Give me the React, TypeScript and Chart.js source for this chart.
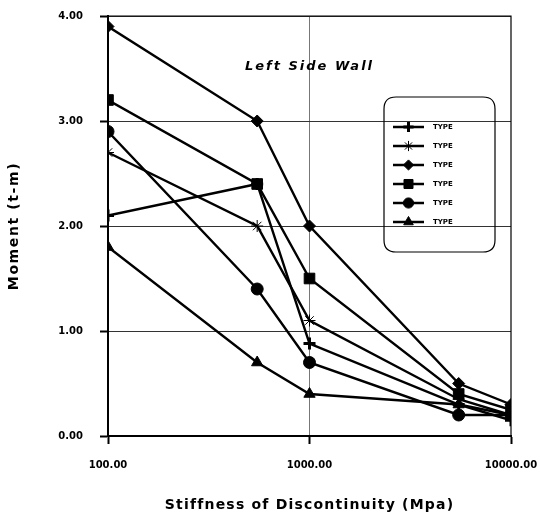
import React, { useEffect, useRef } from 'react';
import { Chart, registerables } from 'chart.js';

Chart.register(...registerables);

const xValues = [100, 550, 1000, 5500, 10000];
const typePlus = [2.1, 2.4, 0.88, 0.3, 0.15];
const typeStar = [2.7, 2.0, 1.1, 0.35, 0.2];
const typeDiamond = [3.9, 3.0, 2.0, 0.5, 0.3];
const typeSquare = [3.2, 2.4, 1.5, 0.4, 0.25];
const typeCircle = [2.9, 1.4, 0.7, 0.2, 0.2];
const typeTriangle = [1.8, 0.7, 0.4, 0.3, 0.2];
const seriesNames = ['TYPE', 'TYPE', 'TYPE', 'TYPE', 'TYPE', 'TYPE'];

const xTickValues = [100, 1000, 10000];
const xTickLabels = ['100.00', '1000.00', '10000.00'];
const yTickValues = [0, 1, 2, 3, 4];
const yTickLabels = ['0.00', '1.00', '2.00', '3.00', '4.00'];

const chartTitle = 'Left Side Wall';
const xTitle = 'Stiffness of Discontinuity (Mpa)';
const yTitle = 'Moment (t-m)';

const seriesValues = [typePlus, typeStar, typeDiamond, typeSquare, typeCircle, typeTriangle];
const markerStyles = [
  { pointStyle: 'cross', radius: 6, borderWidth: 3 },
  { pointStyle: 'star', radius: 6, borderWidth: 1 },
  { pointStyle: 'rectRot', radius: 6, borderWidth: 1 },
  { pointStyle: 'rect', radius: 7.5, borderWidth: 1 },
  { pointStyle: 'circle', radius: 6, borderWidth: 1 },
  { pointStyle: 'triangle', radius: 6.5, borderWidth: 1 },
];

const FONT = '"DejaVu Sans", "Liberation Sans", Arial, sans-serif';

function drawMarker(ctx: CanvasRenderingContext2D, style: string, r: number, x: number, y: number) {
  ctx.beginPath();
  switch (style) {
    case 'cross':
      ctx.moveTo(x - r, y); ctx.lineTo(x + r, y);
      ctx.moveTo(x, y - r); ctx.lineTo(x, y + r);
      ctx.stroke();
      return;
    case 'star':
      for (let k = 0; k < 4; k++) {
        const a = (k * Math.PI) / 4;
        ctx.moveTo(x - r * Math.cos(a), y - r * Math.sin(a));
        ctx.lineTo(x + r * Math.cos(a), y + r * Math.sin(a));
      }
      ctx.stroke();
      return;
    case 'rectRot':
      ctx.moveTo(x, y - r); ctx.lineTo(x + r, y); ctx.lineTo(x, y + r); ctx.lineTo(x - r, y);
      break;
    case 'rect': {
      const s = r * Math.SQRT1_2;
      ctx.rect(x - s, y - s, 2 * s, 2 * s);
      break;
    }
    case 'circle':
      ctx.arc(x, y, r, 0, Math.PI * 2);
      break;
    case 'triangle':
      ctx.moveTo(x, y - r); ctx.lineTo(x + r * 0.866, y + r * 0.5); ctx.lineTo(x - r * 0.866, y + r * 0.5);
      break;
  }
  ctx.closePath();
  ctx.fill();
  ctx.stroke();
}

const decorPlugin = {
  id: 'decor',
  afterDraw(chart: any) {
    const { ctx, chartArea } = chart;
    const { left, right, top, bottom } = chartArea;
    const xs = chart.scales.x;
    ctx.save();
    ctx.strokeStyle = '#000';
    ctx.lineWidth = 1.2;
    ctx.beginPath();
    ctx.moveTo(left, top);
    ctx.lineTo(right, top);
    ctx.lineTo(right, bottom);
    ctx.stroke();

    ctx.fillStyle = '#000';
    ctx.font = `italic bold 13px ${FONT}`;
    (ctx as any).letterSpacing = '2px';
    ctx.textAlign = 'center';
    ctx.textBaseline = 'middle';
    ctx.fillText(chartTitle, xs.getPixelForValue(1000), top + 51);

    ctx.font = `bold 14px ${FONT}`;
    (ctx as any).letterSpacing = '1.2px';
    ctx.fillText(xTitle, (left + right) / 2, 505);
    ctx.save();
    ctx.translate(14, (top + bottom) / 2);
    ctx.rotate(-Math.PI / 2);
    (ctx as any).letterSpacing = '1.6px';
    ctx.fillText(yTitle, 0, 0);
    ctx.restore();
    (ctx as any).letterSpacing = '0px';

    const bx = 384, by = 97, bw = 111, bh = 155, r = 12;
    ctx.strokeStyle = '#000';
    ctx.lineWidth = 1.2;
    ctx.beginPath();
    ctx.moveTo(bx + r, by);
    ctx.lineTo(bx + bw - r, by);
    ctx.quadraticCurveTo(bx + bw, by, bx + bw, by + r);
    ctx.lineTo(bx + bw, by + bh - r);
    ctx.quadraticCurveTo(bx + bw, by + bh, bx + bw - r, by + bh);
    ctx.lineTo(bx + r, by + bh);
    ctx.quadraticCurveTo(bx, by + bh, bx, by + bh - r);
    ctx.lineTo(bx, by + r);
    ctx.quadraticCurveTo(bx, by, bx + r, by);
    ctx.closePath();
    ctx.stroke();
    chart.data.datasets.forEach((ds: any, i: number) => {
      const yy = by + 30 + i * 19;
      ctx.strokeStyle = '#000';
      ctx.fillStyle = '#000';
      ctx.lineWidth = 2.5;
      ctx.beginPath();
      ctx.moveTo(393, yy);
      ctx.lineTo(424, yy);
      ctx.stroke();
      const ms = markerStyles[i];
      ctx.lineWidth = ms.borderWidth;
      drawMarker(ctx, ms.pointStyle, ms.radius * 0.85, 408.5, yy);
      ctx.font = `bold 7px ${FONT}`;
      ctx.textAlign = 'left';
      ctx.textBaseline = 'middle';
      ctx.fillText(ds.label, 433, yy);
    });
    ctx.restore();
  },
};

export default function App() {
  const ref = useRef<HTMLCanvasElement>(null);
  useEffect(() => {
    if (!ref.current) return;
    const chart = new Chart(ref.current, {
      type: 'line',
      data: {
        datasets: seriesValues.map((vals, i) => ({
          label: seriesNames[i],
          data: xValues.map((x, j) => ({ x, y: vals[j] })),
          borderColor: '#000',
          backgroundColor: '#000',
          borderWidth: 2.4,
          pointStyle: markerStyles[i].pointStyle as any,
          pointRadius: markerStyles[i].radius,
          pointBorderWidth: markerStyles[i].borderWidth,
          pointBackgroundColor: '#000',
          pointBorderColor: '#000',
          tension: 0,
        })),
      },
      options: {
        responsive: false,
        animation: false,
        layout: { padding: { top: 16, right: 29, left: 0, bottom: 0 } },
        plugins: { legend: { display: false }, tooltip: { enabled: false }, title: { display: false } },
        scales: {
          x: {
            type: 'logarithmic',
            min: 100,
            max: 10000,
            afterBuildTicks: (scale: any) => {
              scale.ticks = xTickValues.map((v) => ({ value: v }));
            },
            afterFit: (scale: any) => {
              scale.height = 81;
              scale.paddingLeft = 0;
              scale.paddingRight = 0;
            },
            ticks: {
              autoSkip: false,
              maxRotation: 0,
              minRotation: 0,
              padding: 15,
              color: '#000',
              font: { family: FONT, size: 10, weight: 'bold' },
              callback: (_v: any, i: number) => xTickLabels[i],
            },
            grid: {
              color: (c: any) => (c.tick && c.tick.value === 1000 ? '#777' : 'rgba(0,0,0,0)'),
              lineWidth: 1,
              tickColor: '#000',
              tickWidth: 2,
              tickLength: 8,
            },
            border: { color: '#000', width: 2 },
          },
          y: {
            type: 'linear',
            min: 0,
            max: 4,
            afterBuildTicks: (scale: any) => {
              scale.ticks = yTickValues.map((v) => ({ value: v }));
            },
            afterFit: (scale: any) => {
              scale.width = 108;
              scale.paddingTop = 0;
              scale.paddingBottom = 0;
            },
            ticks: {
              padding: 17,
              color: '#000',
              font: { family: FONT, size: 10, weight: 'bold' },
              callback: (_v: any, i: number) => yTickLabels[i],
            },
            grid: {
              color: (c: any) => (c.tick && c.tick.value === 0 ? 'rgba(0,0,0,0)' : '#333'),
              lineWidth: 1,
              tickColor: '#000',
              tickWidth: 2,
              tickLength: 8,
            },
            border: { color: '#000', width: 2 },
          },
        },
      },
      plugins: [decorPlugin],
    });
    return () => chart.destroy();
  }, []);
  return (
    <div style={{ position: 'absolute', left: 0, top: 0, width: 540, height: 517, background: '#fff' }}>
      <canvas ref={ref} width={540} height={517} />
    </div>
  );
}
